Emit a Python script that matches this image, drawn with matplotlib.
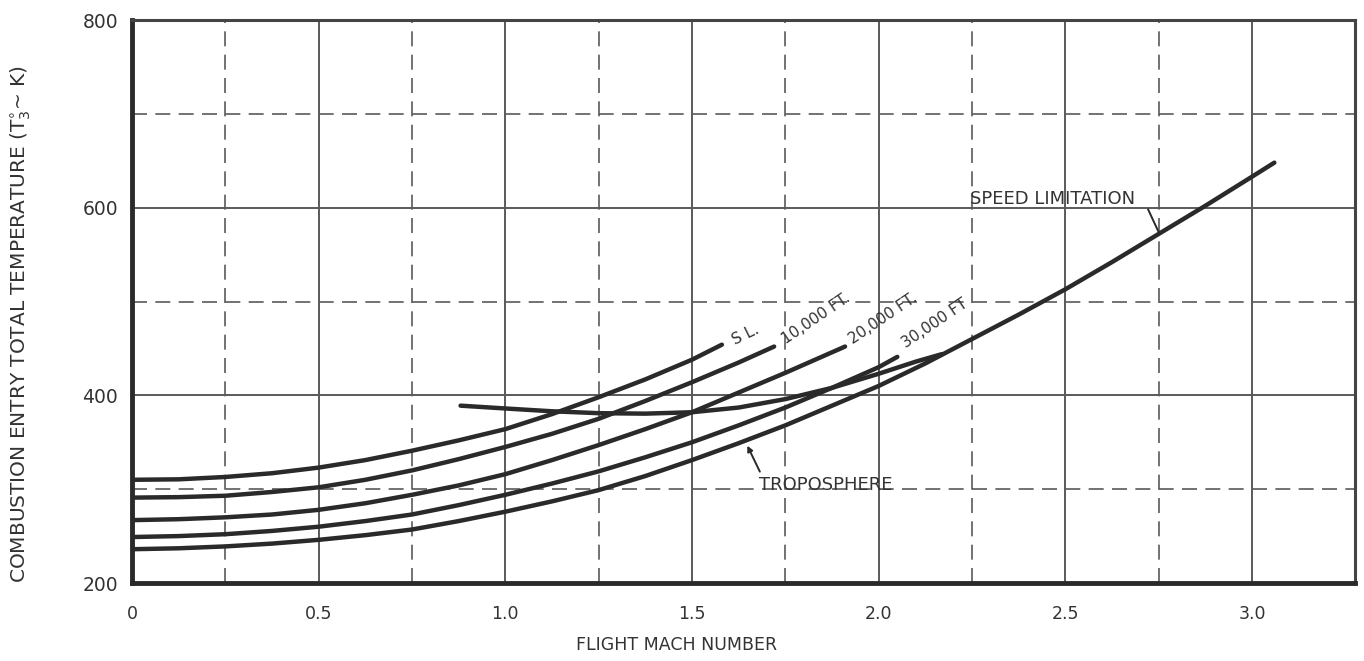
import numpy as np
import matplotlib
matplotlib.use("Agg")
import matplotlib.pyplot as plt

# Values (flight Mach number vs total temperature, K)
sl_mach = [0, 0.125, 0.25, 0.375, 0.5, 0.625, 0.75, 0.875, 1.0, 1.125, 1.25, 1.375, 1.5, 1.58]
sl_temp = [310, 310.5, 313, 317, 323, 331, 341, 352, 364, 380, 398, 417, 438, 454]

ft10k_mach = [0, 0.125, 0.25, 0.375, 0.5, 0.625, 0.75, 0.875, 1.0, 1.125, 1.25, 1.375, 1.5, 1.625, 1.72]
ft10k_temp = [291, 291.5, 293, 297, 302, 310, 320, 332, 345, 359, 375, 394, 414, 435, 452]

ft20k_mach = [0, 0.125, 0.25, 0.375, 0.5, 0.625, 0.75, 0.875, 1.0, 1.125, 1.25, 1.375, 1.5, 1.625, 1.75, 1.91]
ft20k_temp = [267, 268, 270, 273, 278, 285, 294, 304, 316, 331, 347, 364, 382, 403, 424, 452]

ft30k_mach = [0, 0.125, 0.25, 0.375, 0.5, 0.625, 0.75, 0.875, 1.0, 1.125, 1.25, 1.375, 1.5, 1.625, 1.75, 1.875, 2.0, 2.05]
ft30k_temp = [249, 250, 252, 255.5, 260, 266, 273, 283, 294, 306, 319, 334, 350, 368, 387, 408, 430, 441]

tropo_mach = [0, 0.125, 0.25, 0.375, 0.5, 0.625, 0.75, 0.875, 1.0, 1.125, 1.25, 1.375, 1.5,
              1.625, 1.75, 1.875, 2.0, 2.125, 2.25, 2.375, 2.5, 2.625, 2.75, 2.875, 3.0, 3.06]
tropo_temp = [236, 237, 239, 242, 246, 251, 257, 266, 276, 287, 299, 314, 331,
              349, 368, 389, 410, 434, 460, 486, 513, 542, 572, 602, 633, 648]

speed_mach = [0.88, 1.0, 1.125, 1.25, 1.375, 1.5, 1.625, 1.75, 1.875, 2.0, 2.1, 2.17]
speed_temp = [389, 386, 383, 381, 380.5, 382, 387, 396, 408, 423, 436, 444]

x_ticks = [0, 0.5, 1.0, 1.5, 2.0, 2.5, 3.0]
x_ticklabels = ["0", "0.5", "1.0", "1.5", "2.0", "2.5", "3.0"]
y_ticks = [200, 400, 600, 800]

ink = "#2a2a2a"
grid_c = "#5a5a5a"
txt_c = "#333333"

fig = plt.figure(figsize=(13.64, 6.61), dpi=100)
ax = fig.add_axes([0.0968, 0.118, 0.8966, 0.8517])
ax.set_xlim(0, 3.276)
ax.set_ylim(200, 800)

# grid: solid at 0.5 / 200 steps, dashed in between
for xv in np.arange(0.25, 3.01, 0.25):
    if abs(xv / 0.5 - round(xv / 0.5)) < 1e-6:
        ax.axvline(xv, color=grid_c, lw=1.4, zorder=1)
    else:
        ax.axvline(xv, color=grid_c, lw=1.2, ls=(0, (9, 5)), zorder=1)
for yv in [300, 400, 500, 600, 700]:
    if yv % 200 == 0:
        ax.axhline(yv, color=grid_c, lw=1.4, zorder=1)
    else:
        ax.axhline(yv, color=grid_c, lw=1.2, ls=(0, (9, 5)), zorder=1)

lw = 3.2
for xs, ys in [(sl_mach, sl_temp), (ft10k_mach, ft10k_temp),
               (ft20k_mach, ft20k_temp), (ft30k_mach, ft30k_temp),
               (tropo_mach, tropo_temp), (speed_mach, speed_temp)]:
    ax.plot(xs, ys, color=ink, lw=lw, solid_capstyle="round",
            solid_joinstyle="round", zorder=3)

# curve labels
lab = dict(color=txt_c, fontsize=11, ha="left", va="center",
           rotation_mode="anchor")
ax.text(1.61, 458, "S L.", rotation=26, **lab)
ax.text(1.745, 458, "10,000 FT.", rotation=34, **lab)
ax.text(1.925, 458, "20,000 FT.", rotation=34, **lab)
ax.text(2.065, 454, "30,000 FT", rotation=34, **lab)

ax.text(2.245, 604, "SPEED LIMITATION", color=txt_c, fontsize=13,
        ha="left", va="baseline")
ax.plot([2.722, 2.75], [598, 574], color=ink, lw=1.4, zorder=3)

ax.text(1.68, 299, "TROPOSPHERE", color=txt_c, fontsize=13,
        ha="left", va="baseline")
ax.annotate("", xy=(1.645, 349), xytext=(1.685, 316),
            arrowprops=dict(arrowstyle="-|>", color=ink, lw=1.4,
                            mutation_scale=8))

ax.set_xticks(x_ticks)
ax.set_xticklabels(x_ticklabels)
ax.set_yticks(y_ticks)
ax.tick_params(axis="both", length=0, colors=txt_c, labelsize=12.5)
ax.tick_params(axis="x", pad=16)
ax.tick_params(axis="y", pad=10, labelsize=13.5)

for side in ["left", "bottom"]:
    ax.spines[side].set_linewidth(3.5)
    ax.spines[side].set_color(ink)
for side in ["top", "right"]:
    ax.spines[side].set_linewidth(2.2)
    ax.spines[side].set_color("#444444")

fig.text(0.496, 0.024, "FLIGHT MACH NUMBER", fontsize=12.5, color=txt_c,
         ha="center", va="center")
fig.text(0.015, 0.51, r"COMBUSTION ENTRY TOTAL TEMPERATURE (T$_3^{\circ}$~ K)",
         rotation=90, ha="center", va="center", fontsize=14.5, color=txt_c)

fig.savefig("out.png", dpi=100, facecolor="white")
